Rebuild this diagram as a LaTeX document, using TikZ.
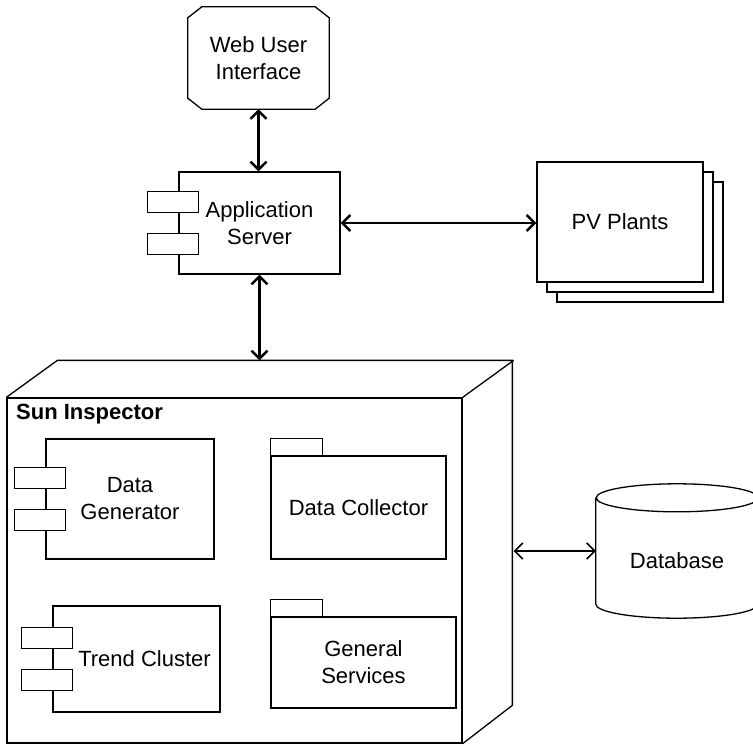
\documentclass[tikz,border=0pt]{standalone}
\usepackage{fontspec}
\setmainfont{Liberation Sans}
\usetikzlibrary{arrows.meta,shadows}

\tikzset{
  box/.style={draw, line width=1.3pt, fill=white, align=center, inner sep=0pt},
  rim/.style={line width=1.3pt},
  link/.style={{Straight Barb[length=8pt,width=16pt]}-{Straight Barb[length=8pt,width=16pt]}, line width=2.4pt},
}

\begin{document}
\begin{tikzpicture}[x=1pt,y=-1pt,font=\fontsize{22}{27}\selectfont]
  \useasboundingbox (0,0) rectangle (753,745);
  \node[align=center, minimum width=141pt, minimum height=102pt, inner sep=0pt] (web) at (258.5,58) {Web User\\Interface};
  \draw[rim] ([xshift=14pt]web.north west) -- ([xshift=-14pt]web.north east) -- ([yshift=-11pt]web.north east)
    -- ([yshift=11pt]web.south east) -- ([xshift=-14pt]web.south east) -- ([xshift=14pt]web.south west)
    -- ([yshift=11pt]web.south west) -- ([yshift=-11pt]web.north west) -- cycle;
  \node[box, minimum width=161pt, minimum height=102pt] (app) at (259.5,223) {Application\\Server};
  \node[box, minimum width=166pt, minimum height=120pt,
        double copy shadow={shadow xshift=10pt, shadow yshift=-10pt}] (pv) at (620,222) {PV Plants};

  \node[box, minimum width=455pt, minimum height=345pt] (sun) at (234.5,570.5) {};
  \draw[rim] (sun.north west) -- ++(51,-37) -- ++(455,0) -- ++(0,345) -- (sun.south east)
    (sun.north east) -- ++(51,-37);
  \coordinate (sunback) at ([xshift=51pt,yshift=37pt]sun.north);
  \coordinate (sunside) at ([xshift=51pt,yshift=37pt]sun.east);
  \node[anchor=west, inner sep=0pt, font=\fontsize{22}{27}\selectfont\bfseries] (title) at (16,414) {Sun Inspector};

  \node[box, minimum width=168pt, minimum height=120pt] (gen) at (130,499) {Data\\Generator};
  \node[box, minimum width=167pt, minimum height=106pt] (trend) at (136.5,659) {\hspace*{16pt}Trend Cluster};
  \node[box, minimum width=175pt, minimum height=103pt] (coll) at (358.5,507.5) {Data Collector};
  \node[box, minimum width=185pt, minimum height=91pt] (serv) at (363.5,662.5) {General\\Services};

  \foreach \n in {app,gen,trend} {
      \draw[box] ([xshift=-31pt,yshift=10.5pt]\n.west) rectangle ([xshift=20pt,yshift=31.5pt]\n.west);
      \draw[box] ([xshift=-31pt,yshift=-10.5pt]\n.west) rectangle ([xshift=20pt,yshift=-31.5pt]\n.west);
    }
  \foreach \n in {coll,serv} {
      \draw[box] (\n.north west) rectangle ([xshift=52pt,yshift=17pt]\n.north west);
    }

  \node[minimum width=162pt, minimum height=134pt, text height=34pt, text depth=0pt, inner sep=0pt] (db) at (677,551) {Database};
  \draw[rim] ([yshift=-14pt]db.north west) -- ([yshift=14pt]db.south west)
    arc[start angle=180, end angle=360, x radius=81pt, y radius=14pt]
    -- ([yshift=-14pt]db.north east)
    arc[start angle=0, end angle=180, x radius=81pt, y radius=14pt]
    arc[start angle=180, end angle=360, x radius=81pt, y radius=14pt];

  \draw[link] (web.south) -- (web.south |- app.north);
  \draw[link] (app.east) -- (app.east -| pv.west);
  \draw[link] (app.south) -- (app.south |- sunback);
  \draw[link, line width=1.6pt] (sunside |- db.west) -- (db.west);
\end{tikzpicture}
\end{document}
